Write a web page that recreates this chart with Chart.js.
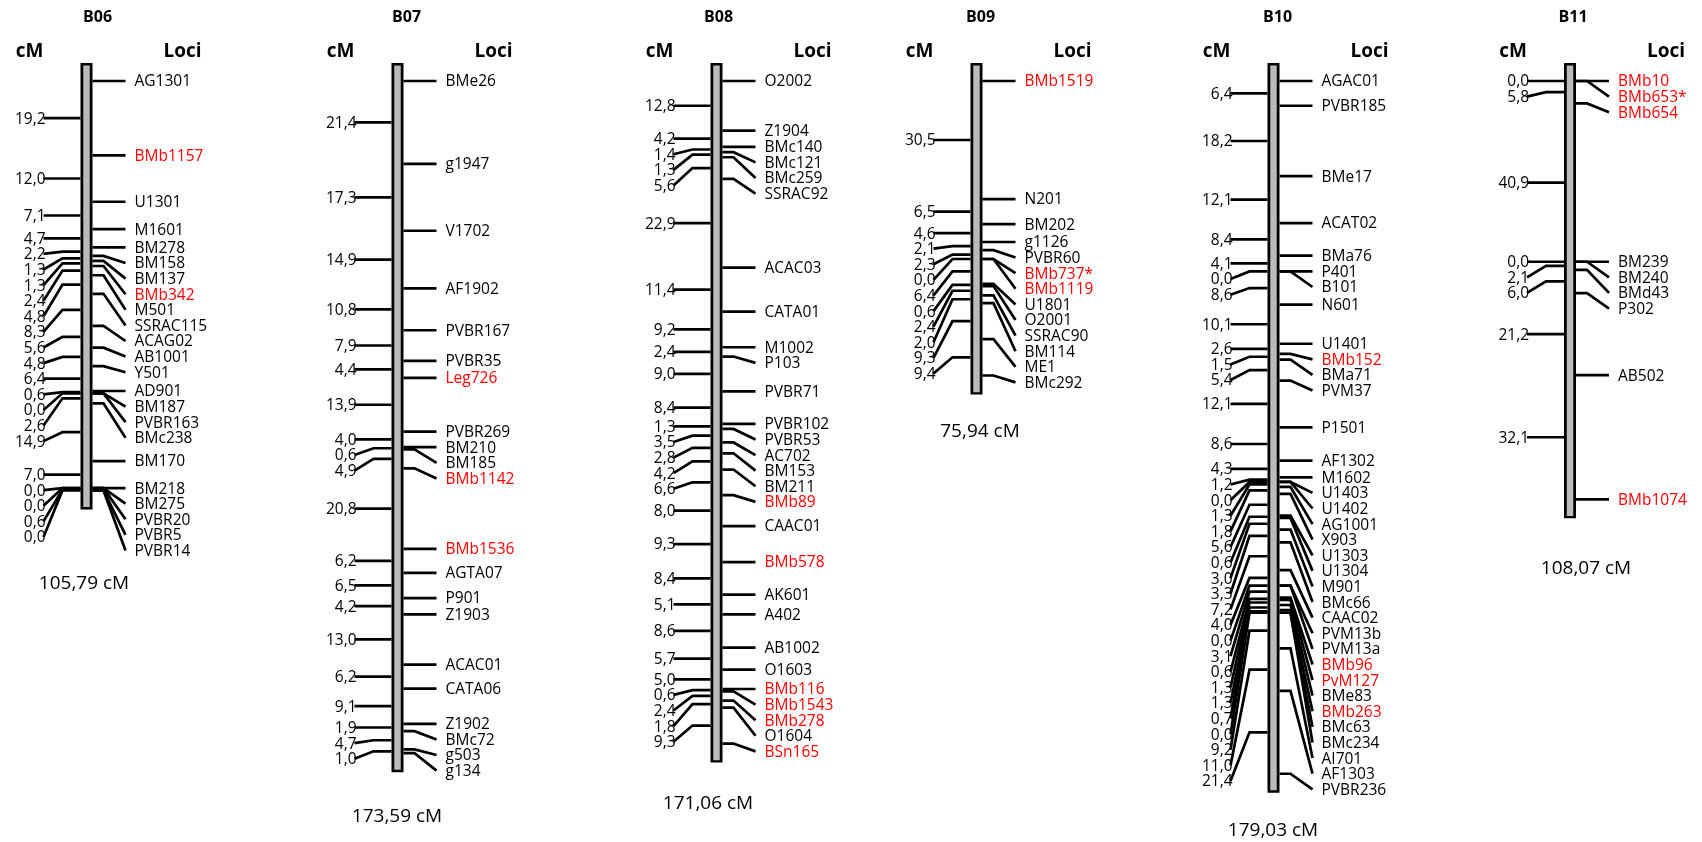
<!DOCTYPE html>
<html>
<head>
<meta charset="utf-8">
<title>Linkage map B06-B11</title>
<script src="https://cdn.jsdelivr.net/npm/chart.js@4.4.0/dist/chart.umd.min.js"></script>
<style>
  html, body { margin: 0; padding: 0; background: #fff; }
  #wrap { width: 1702px; height: 842px; }
</style>
</head>
<body>
<div id="wrap"><canvas id="map" width="1702" height="842"></canvas></div>
<script>
// ---- data: loci (top to bottom) and distances between neighbours (cM) ----
const groups = ['B06', 'B07', 'B08', 'B09', 'B10', 'B11'];
const totals = ['105,79 cM', '173,59 cM', '171,06 cM', '75,94 cM', '179,03 cM', '108,07 cM'];

const b06Loci = ['AG1301', 'BMb1157', 'U1301', 'M1601', 'BM278', 'BM158', 'BM137', 'BMb342', 'M501', 'SSRAC115',
  'ACAG02', 'AB1001', 'Y501', 'AD901', 'BM187', 'PVBR163', 'BMc238', 'BM170', 'BM218', 'BM275', 'PVBR20', 'PVBR5', 'PVBR14'];
const b06Cm = [19.2, 12.0, 7.1, 4.7, 2.2, 1.3, 1.3, 2.4, 4.8, 8.3, 5.6, 4.8, 6.4, 0.6, 0.0, 2.6, 14.9, 7.0, 0.0, 0.0, 0.6, 0.0];

const b07Loci = ['BMe26', 'g1947', 'V1702', 'AF1902', 'PVBR167', 'PVBR35', 'Leg726', 'PVBR269', 'BM210', 'BM185',
  'BMb1142', 'BMb1536', 'AGTA07', 'P901', 'Z1903', 'ACAC01', 'CATA06', 'Z1902', 'BMc72', 'g503', 'g134'];
const b07Cm = [21.4, 17.3, 14.9, 10.8, 7.9, 4.4, 13.9, 4.0, 0.6, 4.9, 20.8, 6.2, 6.5, 4.2, 13.0, 6.2, 9.1, 1.9, 4.7, 1.0];

const b08Loci = ['O2002', 'Z1904', 'BMc140', 'BMc121', 'BMc259', 'SSRAC92', 'ACAC03', 'CATA01', 'M1002', 'P103',
  'PVBR71', 'PVBR102', 'PVBR53', 'AC702', 'BM153', 'BM211', 'BMb89', 'CAAC01', 'BMb578', 'AK601', 'A402',
  'AB1002', 'O1603', 'BMb116', 'BMb1543', 'BMb278', 'O1604', 'BSn165'];
const b08Cm = [12.8, 4.2, 1.4, 1.3, 5.6, 22.9, 11.4, 9.2, 2.4, 9.0, 8.4, 1.3, 3.5, 2.8, 4.2, 6.6, 8.0, 9.3, 8.4,
  5.1, 8.6, 5.7, 5.0, 0.6, 2.4, 1.8, 9.3];

const b09Loci = ['BMb1519', 'N201', 'BM202', 'g1126', 'PVBR60', 'BMb737*', 'BMb1119', 'U1801', 'O2001', 'SSRAC90',
  'BM114', 'ME1', 'BMc292'];
const b09Cm = [30.5, 6.5, 4.6, 2.1, 2.3, 0.0, 6.4, 0.6, 2.4, 2.0, 9.3, 9.4];

const b10Loci = ['AGAC01', 'PVBR185', 'BMe17', 'ACAT02', 'BMa76', 'P401', 'B101', 'N601', 'U1401', 'BMb152', 'BMa71',
  'PVM37', 'P1501', 'AF1302', 'M1602', 'U1403', 'U1402', 'AG1001', 'X903', 'U1303', 'U1304', 'M901', 'BMc66',
  'CAAC02', 'PVM13b', 'PVM13a', 'BMb96', 'PvM127', 'BMe83', 'BMb263', 'BMc63', 'BMc234', 'AI701', 'AF1303', 'PVBR236'];
const b10Cm = [6.4, 18.2, 12.1, 8.4, 4.1, 0.0, 8.6, 10.1, 2.6, 1.5, 5.4, 12.1, 8.6, 4.3, 1.2, 0.0, 1.3, 1.8, 5.6,
  0.6, 3.0, 3.3, 7.2, 4.0, 0.0, 3.1, 0.6, 1.3, 1.3, 0.7, 0.0, 9.2, 11.0, 21.4];

const b11Loci = ['BMb10', 'BMb653*', 'BMb654', 'BM239', 'BM240', 'BMd43', 'P302', 'AB502', 'BMb1074'];
const b11Cm = [0.0, 5.8, 40.9, 0.0, 2.1, 6.0, 21.2, 32.1];

// loci printed in red
const redLoci = ['BMb1157', 'BMb342', 'Leg726', 'BMb1142', 'BMb1536', 'BMb89', 'BMb578', 'BMb116', 'BMb1543',
  'BMb278', 'BSn165', 'BMb1519', 'BMb737*', 'BMb1119', 'BMb152', 'BMb96', 'PvM127', 'BMb263', 'BMb10',
  'BMb653*', 'BMb654', 'BMb1074'];

// ---- layout ----
const W = 1702, H = 842;
const PX_PER_CM = 3.87;   // vertical scale
const TOP_PX = 81;        // first locus of every group
const LABEL_GAP = 15.6 / PX_PER_CM;
const barX = [86.5, 397.5, 716.5, 976.5, 1273.5, 1570];
const titleDx = [11, 9, 2, 4, 4, 3];
const totalXY = [[84, 584], [397, 817], [708, 804], [980, 432], [1273, 831], [1586, 569]];

const lociLists = [b06Loci, b07Loci, b08Loci, b09Loci, b10Loci, b11Loci];
const cmLists = [b06Cm, b07Cm, b08Cm, b09Cm, b10Cm, b11Cm];

// push labels down so they never overlap
function spread(pos) {
  let out = [];
  pos.forEach((p, i) => out.push(i === 0 ? p : Math.max(p, out[i - 1] + LABEL_GAP)));
  return out;
}

let maps = groups.map((name, k) => {
  let cum = [0];
  cmLists[k].forEach(d => cum.push(cum[cum.length - 1] + d));
  let mid = cmLists[k].map((d, i) => (cum[i] + cum[i + 1]) / 2);
  return { name: name, loci: lociLists[k], cm: cmLists[k], cum: cum, mid: mid,
    lociLab: spread(cum), cmLab: spread(mid), end: cum[cum.length - 1] };
});

let datasets = [];
const lineBase = { type: 'line', pointRadius: 0, borderColor: '#000', tension: 0, fill: false };

maps.forEach((m, k) => {
  const cx = barX[k];
  // chromosome bar: black outline then grey core
  datasets.push(Object.assign({}, lineBase, { order: 0, borderColor: '#bababa', borderWidth: 6.5,
    data: [{ x: cx, y: -4.0 }, { x: cx, y: m.end + 4.3 }] }));
  datasets.push(Object.assign({}, lineBase, { order: 1, borderWidth: 12, borderCapStyle: 'butt',
    data: [{ x: cx, y: -4.65 }, { x: cx, y: m.end + 4.9 }] }));
  // loci connectors (right)
  m.cum.forEach((c, i) => {
    datasets.push(Object.assign({}, lineBase, { order: 2, borderWidth: 2.7,
      data: [{ x: cx + 6, y: c }, { x: cx + 17, y: c }, { x: cx + 39, y: m.lociLab[i] }] }));
  });
  // distance connectors (left)
  m.mid.forEach((c, i) => {
    datasets.push(Object.assign({}, lineBase, { order: 2, borderWidth: 2.7,
      data: [{ x: cx - 6, y: c }, { x: cx - 24, y: c }, { x: cx - 43, y: m.cmLab[i] }] }));
  });
});

const textPlugin = {
  id: 'mapText',
  afterDatasetsDraw(chart) {
    const ctx = chart.ctx, xs = chart.scales.x, ys = chart.scales.y;
    ctx.save();
    ctx.textBaseline = 'middle';
    maps.forEach((m, k) => {
      const cx = barX[k];
      ctx.fillStyle = '#000';
      ctx.textAlign = 'center';
      ctx.font = 'bold 16px "Open Sans"';
      ctx.fillText(m.name, xs.getPixelForValue(cx + titleDx[k]), 17);
      ctx.font = 'bold 19px "Open Sans"';
      ctx.fillText('cM', xs.getPixelForValue(cx - 57), 52);
      ctx.fillText('Loci', xs.getPixelForValue(cx + 96), 52);

      ctx.font = '15.5px "Open Sans"';
      ctx.textAlign = 'left';
      m.loci.forEach((name, i) => {
        ctx.fillStyle = redLoci.includes(name) ? '#ff0000' : '#000';
        ctx.fillText(name, xs.getPixelForValue(cx + 48), ys.getPixelForValue(m.lociLab[i]) + 1);
      });
      ctx.fillStyle = '#000';
      ctx.textAlign = 'right';
      m.cm.forEach((d, i) => {
        ctx.fillText(d.toFixed(1).replace('.', ','), xs.getPixelForValue(cx - 41), ys.getPixelForValue(m.cmLab[i]) + 1);
      });

      ctx.textAlign = 'center';
      ctx.font = '19px "Open Sans"';
      ctx.fillText(totals[k], totalXY[k][0], totalXY[k][1]);
    });
    ctx.restore();
  }
};

new Chart(document.getElementById('map'), {
  type: 'line',
  data: { datasets: datasets },
  options: {
    responsive: false,
    devicePixelRatio: 1,
    animation: false,
    layout: { padding: 0 },
    plugins: { legend: { display: false }, tooltip: { enabled: false } },
    scales: {
      x: { type: 'linear', min: 0, max: W, display: false },
      y: { type: 'linear', min: -TOP_PX / PX_PER_CM, max: (H - TOP_PX) / PX_PER_CM, reverse: true, display: false }
    }
  },
  plugins: [textPlugin]
});
</script>
</body>
</html>
